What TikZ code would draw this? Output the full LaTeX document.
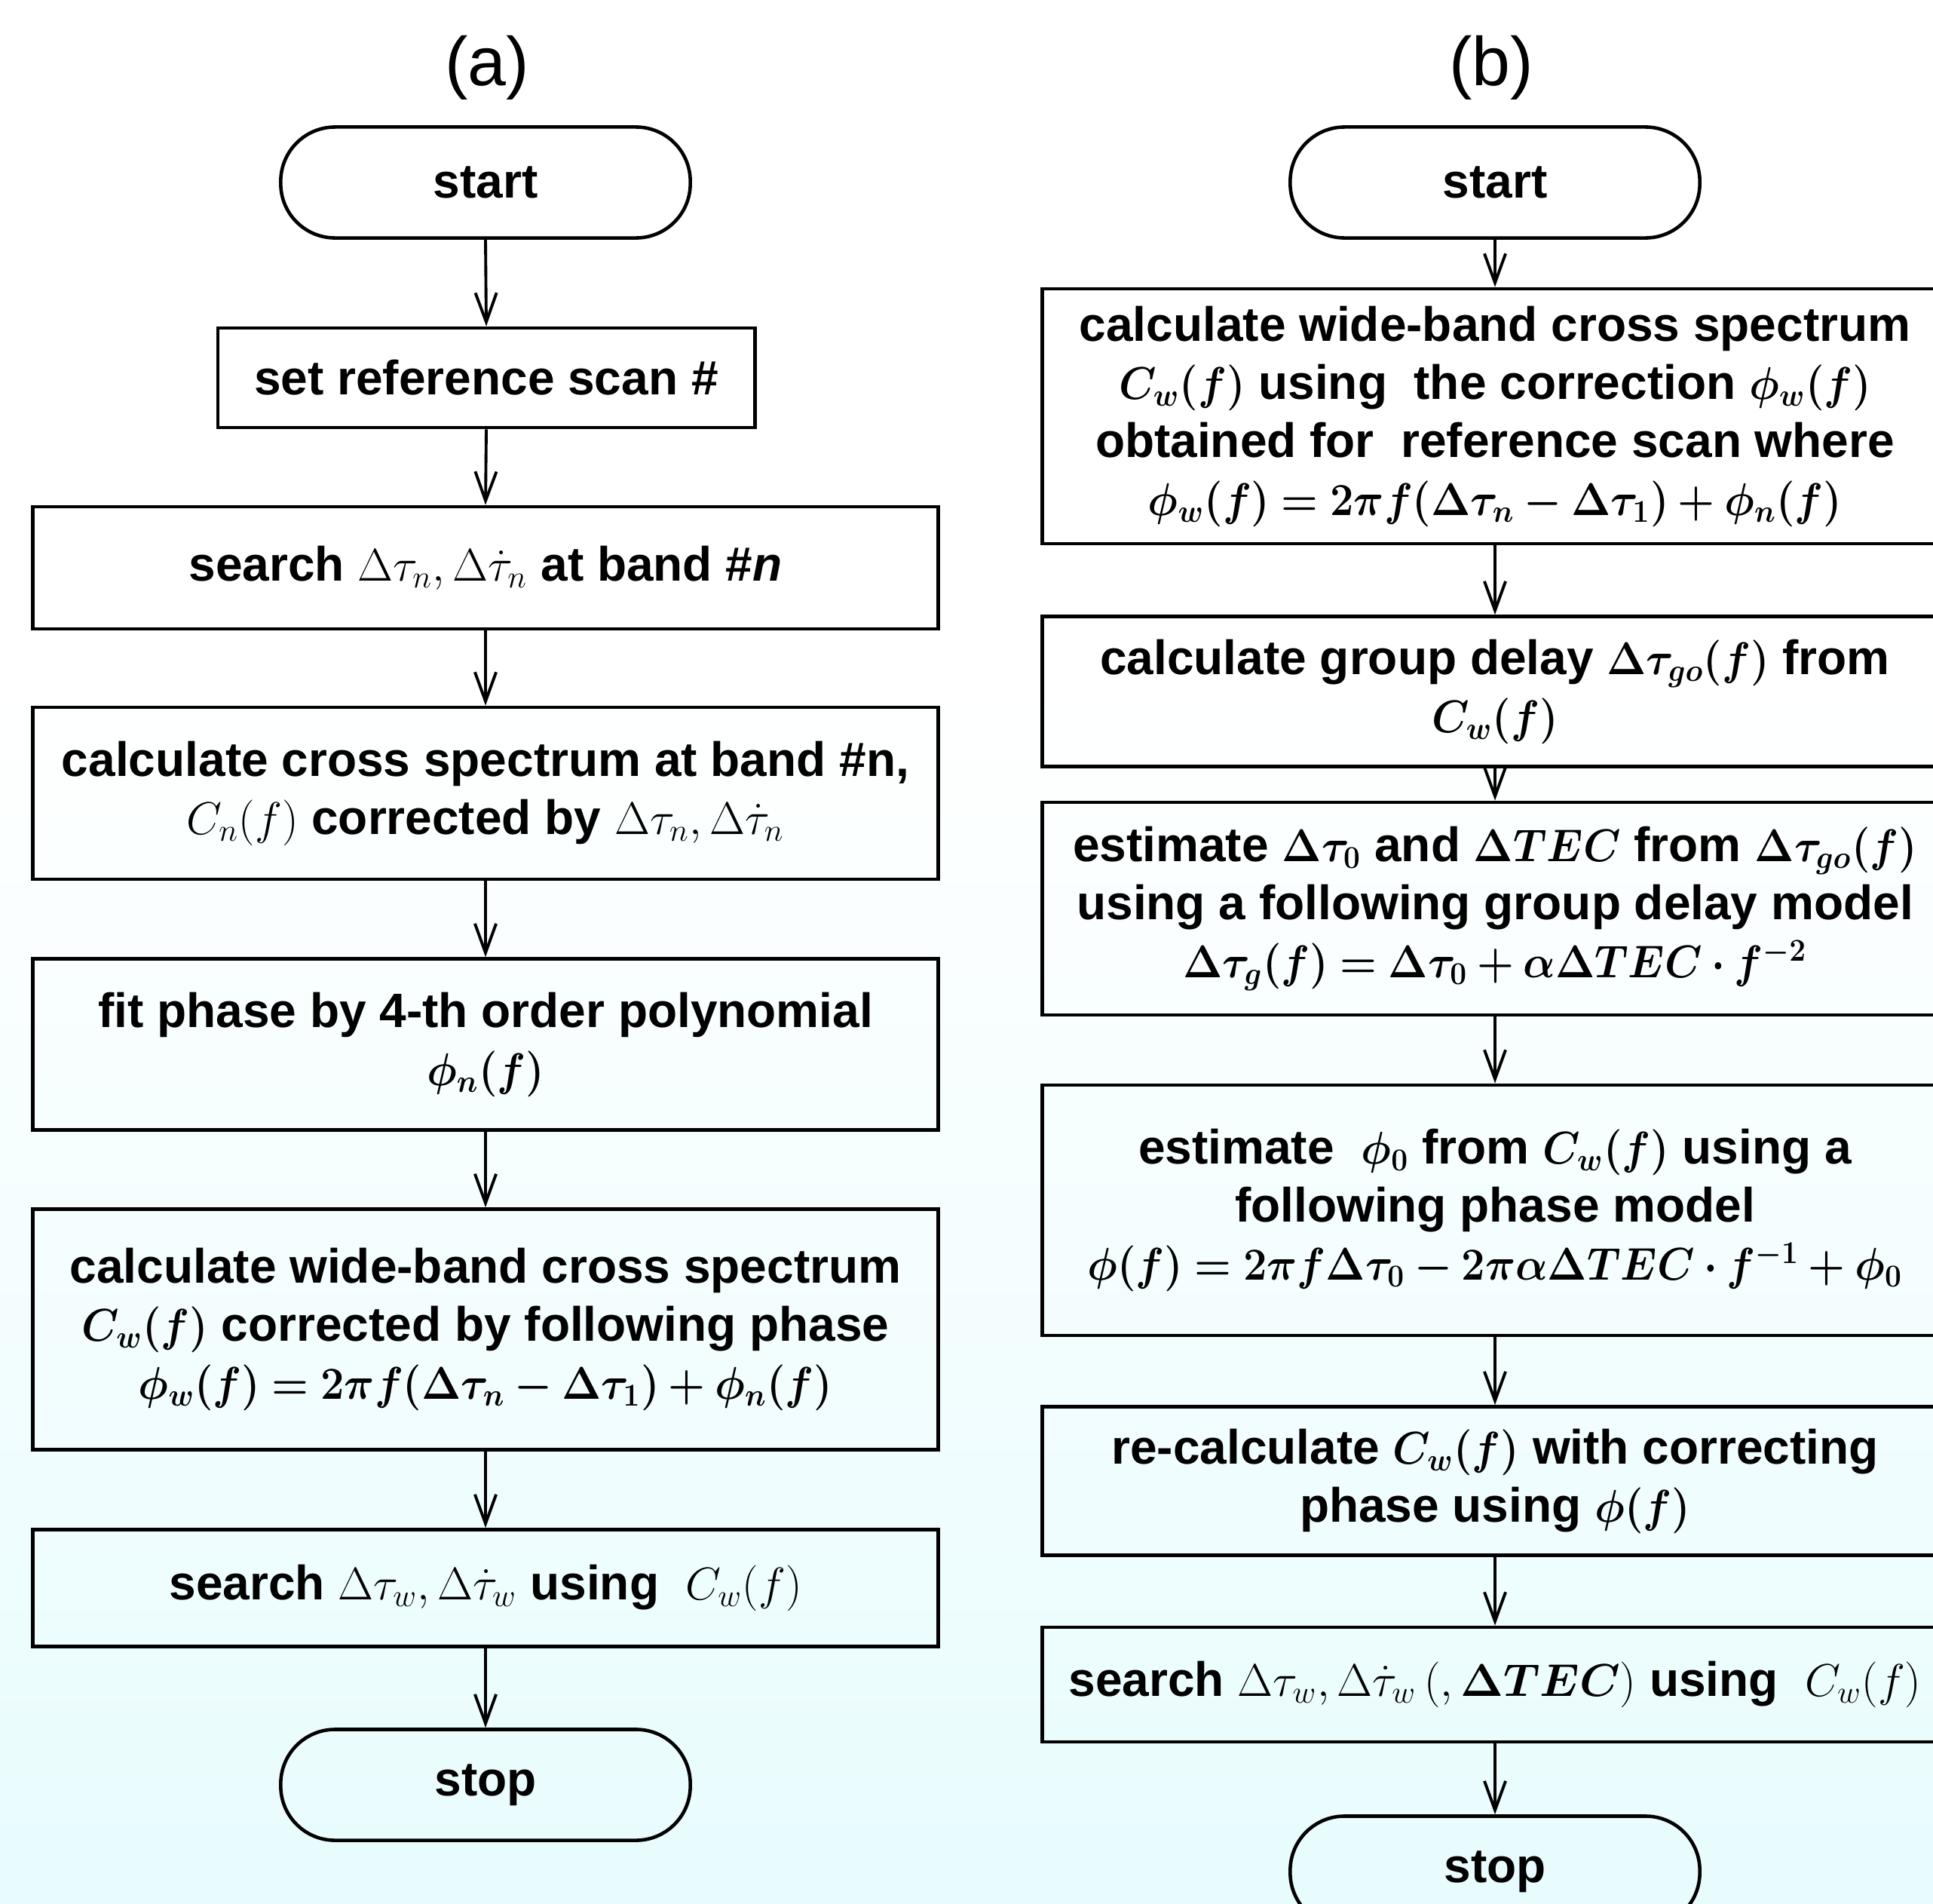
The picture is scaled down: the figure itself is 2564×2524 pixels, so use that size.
\documentclass[tikz,border=0pt]{standalone}
\usepackage{amsmath,amssymb,bm,graphicx}
\usepackage[no-math]{fontspec}
\setmainfont{Liberation Sans}
\usepackage{tikz}
\usetikzlibrary{arrows.meta,positioning}
\definecolor{FlowCyan}{RGB}{232,252,253}
\newcommand{\bmx}[1]{\scalebox{0.92}[1]{$\bm{#1}$}}

\begin{document}
\begin{tikzpicture}[x=0.01cm, y=-0.01cm,
  box/.style={draw, line width=1.3pt, minimum width=12cm, align=center,
    font=\fontsize{18.2pt}{21.9pt}\selectfont\bfseries, inner sep=2pt},
  term/.style={box, minimum width=5.43cm, minimum height=1.47cm, rounded corners=0.72cm},
  flow/.style={-{Straight Barb[length=11pt, width=8pt, line width=1.1pt]}, line width=1.1pt},
  title/.style={font=\fontsize{26pt}{30pt}\selectfont}]
% Canvas and background
\useasboundingbox (0,0) rectangle (2564,2524);
\clip (0,0) rectangle (2564,2524);
\fill[white] (0,0) rectangle (2564,900);
\shade[top color=white, bottom color=FlowCyan] (0,900) rectangle (2564,2524);

% (a) left chart
\node[title] (titleA) at (646,90) {(a)};
\node[term] (startA) at (644,242) {start};
\node[box, minimum width=7.12cm, minimum height=1.32cm] (refA) at (645,501) {set reference scan \#};
\node[box, minimum height=1.62cm] (searchA) at (644,753)
  {search $\Delta\tau_n,\Delta\dot{\tau}_n$ at band \#\textit{n}};
\node[box, minimum height=2.28cm] (crossA) at (644,1052)
  {calculate cross spectrum at band \#n,\\ $C_n(f)$ corrected by $\Delta\tau_n,\Delta\dot{\tau}_n$};
\node[box, minimum height=2.27cm] (fitA) at (644,1385)
  {fit phase by 4-th order polynomial\\ \bmx{\phi_n(f)}};
\node[box, minimum height=3.19cm] (wideA) at (644,1763)
  {calculate wide-band cross spectrum\\ \bmx{C_w(f)} corrected by following phase\\
   \bmx{\phi_w(f)=2\pi f(\Delta\tau_n-\Delta\tau_1)+\phi_n(f)}};
\node[box, minimum height=1.55cm] (searchwA) at (644,2106)
  {search $\Delta\tau_w,\Delta\dot{\tau}_w$ using\ \ $C_w(f)$};
\node[term] (stopA) at (644,2367) {stop};

% (b) right chart
\node[title] (titleB) at (1978,90) {(b)};
\node[term] (startB) at (1983,242) {start};
\node[box, minimum height=3.38cm] (corrB) at (1983,552)
  {calculate wide-band cross spectrum\\ \bmx{C_w(f)} using\ \ the correction \bmx{\phi_w(f)}\\
   obtained for\ \ reference scan where\\ \bmx{\phi_w(f)=2\pi f(\Delta\tau_n-\Delta\tau_1)+\phi_n(f)}};
\node[box, minimum height=1.99cm] (groupB) at (1983,917)
  {calculate group delay \bmx{\Delta\tau_{go}(f)} from\\ \bmx{C_w(f)}};
\node[box, minimum height=2.82cm] (tecB) at (1983,1205)
  {estimate \bmx{\Delta\tau_0} and \bmx{\Delta TEC} from \bmx{\Delta\tau_{go}(f)}\\
   using a following group delay model\\ \bmx{\Delta\tau_g(f)=\Delta\tau_0+\alpha\Delta TEC\cdot f^{-2}}};
\node[box, minimum height=3.32cm] (phaseB) at (1983,1605)
  {estimate\ \ \bmx{\phi_0} from \bmx{C_w(f)} using a\\ following phase model\\
   \bmx{\phi(f)=2\pi f\Delta\tau_0-2\pi\alpha\Delta TEC\cdot f^{-1}+\phi_0}};
\node[box, minimum height=1.97cm] (recalcB) at (1983,1964)
  {re-calculate \bmx{C_w(f)} with correcting\\ phase using \bmx{\phi(f)}};
\node[box, minimum height=1.52cm] (searchB) at (1983,2234)
  {search $\Delta\tau_w,\Delta\dot{\tau}_w\,(,\bm{\Delta TEC})$ using\ \ $C_w(f)$};
\node[term] (stopB) at (1983,2482) {stop};

% Connectors
\foreach \from/\to in {startA/refA, refA/searchA, searchA/crossA, crossA/fitA,
  fitA/wideA, wideA/searchwA, searchwA/stopA,
  startB/corrB, corrB/groupB, groupB/tecB, tecB/phaseB, phaseB/recalcB,
  recalcB/searchB, searchB/stopB}
  \draw[flow] (\from.south) -- (\to.north);
\end{tikzpicture}
\end{document}
